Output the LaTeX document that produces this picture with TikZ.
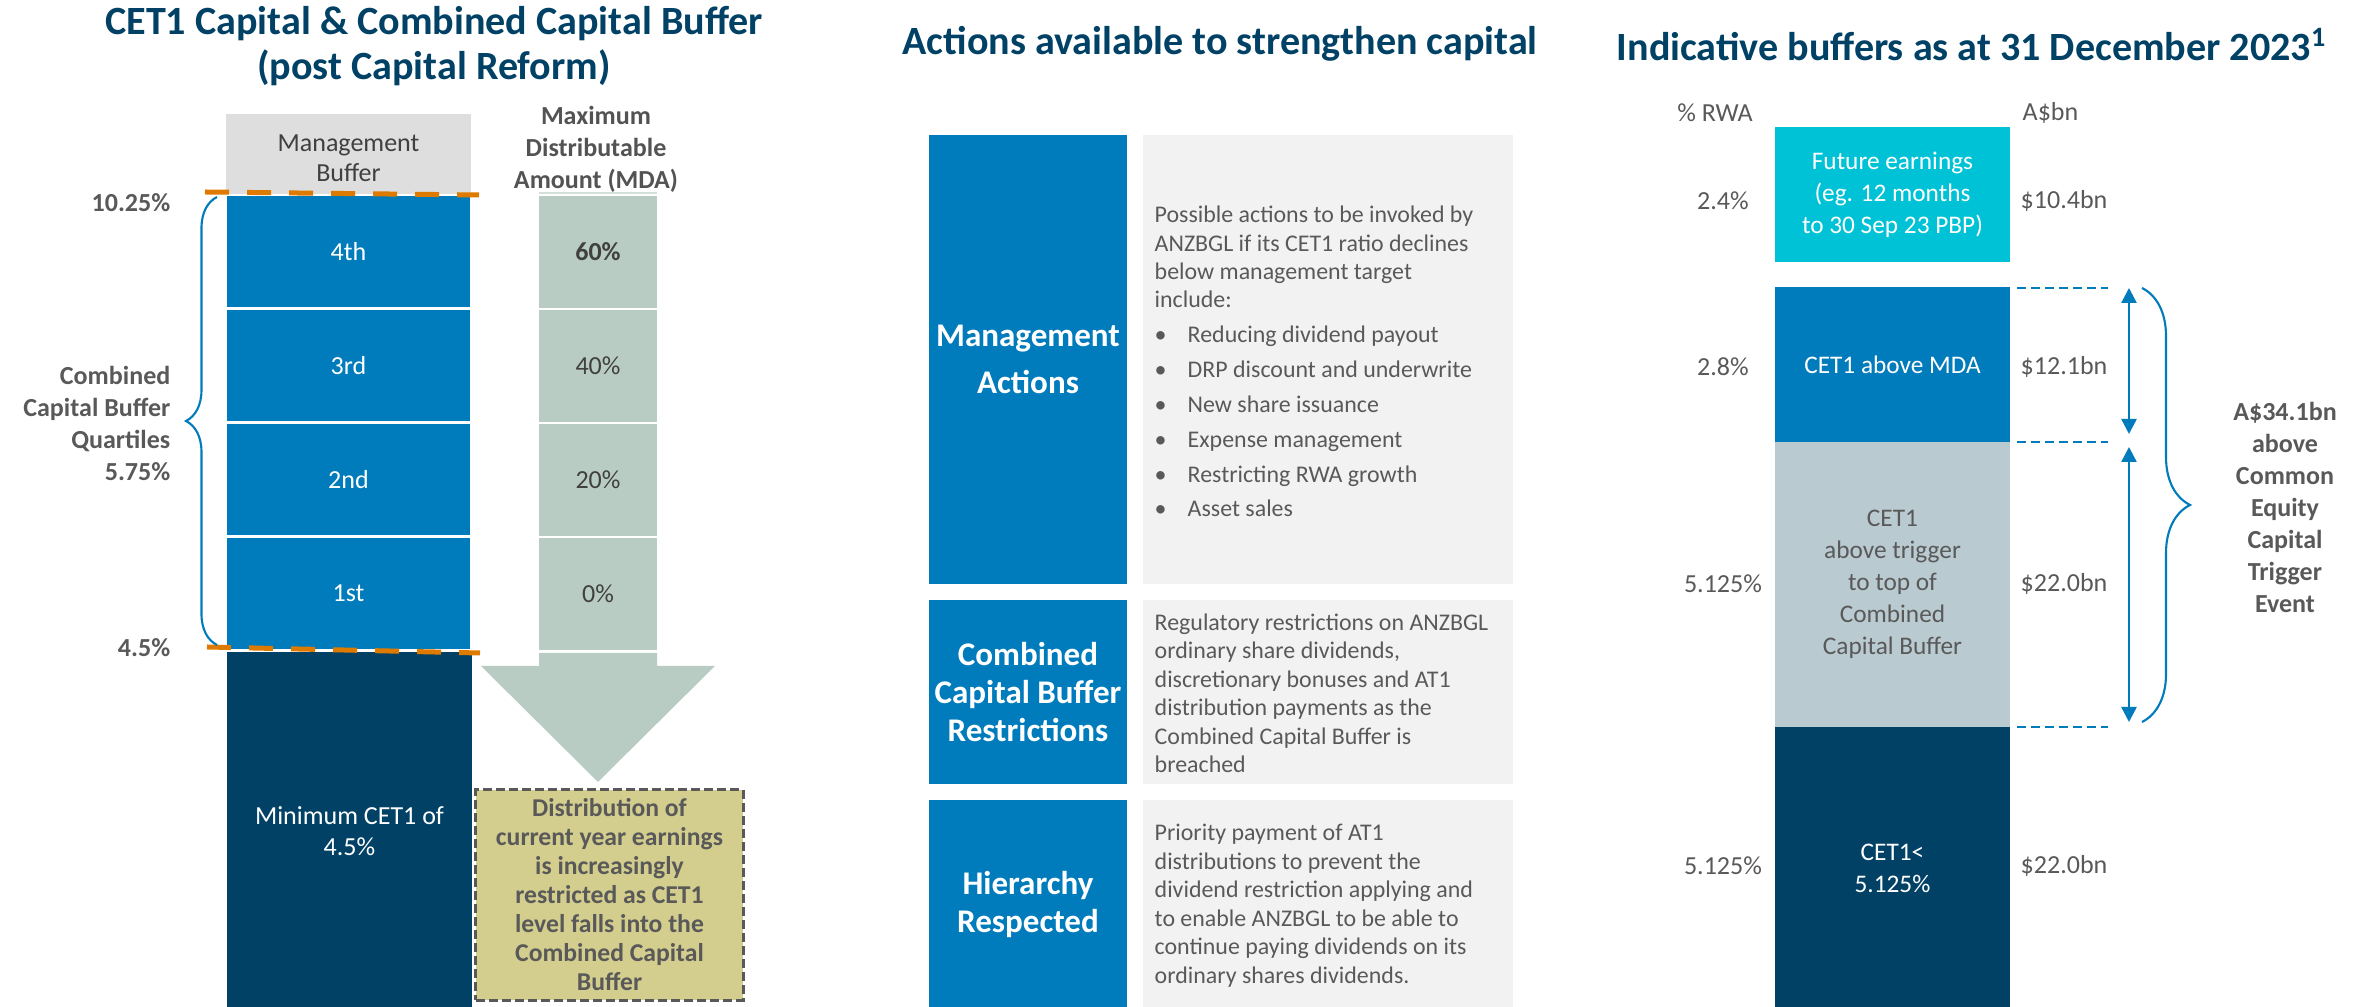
\documentclass[tikz,border=0pt]{standalone}
\usepackage{fontspec}
\setmainfont{Carlito}
\usetikzlibrary{arrows.meta,decorations.pathreplacing}

\definecolor{anzNavy}{HTML}{004165}
\definecolor{anzBlue}{HTML}{007BBB}
\definecolor{anzCyan}{HTML}{00C2D6}
\definecolor{slate}{HTML}{B9CAD1}
\definecolor{sage}{HTML}{B9CCC3}
\definecolor{paleGrey}{HTML}{DEDEDE}
\definecolor{boxGrey}{HTML}{F2F2F2}
\definecolor{anzOrange}{HTML}{DF7A00}
\definecolor{khaki}{HTML}{D3CE8E}
\definecolor{txtGrey}{HTML}{595959}
\definecolor{darkGrey}{HTML}{404040}

\newcommand{\fs}[2]{\fontsize{#1}{#2}\selectfont}

\tikzset{
  title/.style={font=\fs{11.4pt}{12.8pt}\bfseries, text=anzNavy, align=center},
  lab/.style={font=\fs{7.4pt}{8.6pt}, text=txtGrey, align=center, inner sep=0},
  boldlab/.style={lab, font=\fs{7.4pt}{9.1pt}\bfseries},
  qbox/.style={fill=anzBlue, minimum width=2.43cm, minimum height=1.11cm, inner sep=0,
    text=white, font=\fs{7.4pt}{8.6pt}},
  mbox/.style={fill=sage, minimum width=1.18cm, minimum height=1.11cm, inner sep=0,
    text=darkGrey, font=\fs{7.4pt}{8.6pt}},
  headbox/.style={fill=anzBlue, minimum width=1.98cm, inner sep=0, text=white,
    align=center, font=\fs{9.4pt}{10.8pt}\bfseries},
  greybox/.style={fill=boxGrey, minimum width=3.70cm, inner sep=0},
  body/.style={font=\fs{6.8pt}{8.1pt}, text=txtGrey, align=left, anchor=west, inner sep=0},
  rbox/.style={minimum width=2.35cm, inner sep=0, text=white, align=center,
    font=\fs{7.2pt}{9.1pt}},
  orangedash/.style={anzOrange, line width=0.05cm, dash pattern=on 0.24cm off 0.18cm},
  bluedash/.style={anzBlue, line width=0.6pt, dash pattern=on 0.09cm off 0.05cm},
  braceline/.style={anzBlue, line width=0.6pt, decorate},
  dimarrow/.style={anzBlue, line width=0.7pt,
    {Triangle[width=0.15cm,length=0.15cm]}-{Triangle[width=0.15cm,length=0.15cm]}}
}

\begin{document}
\begin{tikzpicture}[x=0.01cm,y=-0.01cm]
\useasboundingbox (0,0) rectangle (2371,1007);

% Left panel.
\node[title] (ttlA) at (434,46) {CET1 Capital \& Combined Capital Buffer\\(post Capital Reform)};

\node[fill=paleGrey, minimum width=2.45cm, minimum height=0.80cm, inner sep=0] (mgmt) at (348.5,154) {};
\node[lab, text=darkGrey, font=\fs{7.4pt}{8.6pt}] (mgmtTxt) at (348.5,158) {Management\\Buffer};

\node[boldlab, text=darkGrey!90] (mdaHd) at (596,149) {Maximum\\Distributable\\Amount (MDA)};
\draw[sage!60, line width=0.4pt] (539,193) -- (657,193);

% Quartiles and MDA.
\foreach \q/\pct [count=\i from 0] in {4th/\textbf{60\%}, 3rd/40\%, 2nd/20\%, 1st/0\%} {
  \node[qbox] (q\i) at (348.5,251.5+114*\i) {\q};
  \node[mbox] (m\i) at (598,252+114*\i) {\pct};
}

\node[fill=anzNavy, minimum width=2.45cm, minimum height=3.58cm, inner sep=0, text=white,
  align=center, font=\fs{7.4pt}{9pt}] (minBox) at (349.5,831) {Minimum CET1 of\\4.5\%};

% Arrow below MDA.
\fill[sage] (539,653) -- (657,653) -- (657,666) -- (715,666) -- (598,782)
  -- (481,666) -- (539,666) -- cycle;

\node[fill=khaki, draw=txtGrey, line width=0.85pt, dash pattern=on 0.09cm off 0.04cm,
  minimum width=2.67cm, minimum height=2.10cm, inner sep=0, align=center, text=txtGrey,
  font=\fs{7.3pt}{8.25pt}\bfseries] (distBox) at (609.5,895)
  {Distribution of\\current year earnings\\is increasingly\\restricted as CET1\\level falls into the\\Combined Capital\\Buffer};

% Levels.
\draw[orangedash] (205,192) -- (479,195);
\draw[orangedash] (207,647) -- (480,653);

\node[boldlab, anchor=east] (l1025) at (171,203) {10.25\%};
\node[boldlab, anchor=east] (l45) at (171,648) {4.5\%};
\node[boldlab, anchor=east, align=right] (ccbLab) at (171,423) {Combined\\Capital Buffer\\Quartiles\\5.75\%};

\coordinate (brLo) at (217,645);
\coordinate (brHi) at (217,197);
\draw[braceline, decoration={brace, amplitude=0.31cm}] (brLo) -- (brHi);

% Middle panel.
\node[title] (ttlB) at (1220,44) {Actions available to strengthen capital};

\node[headbox, minimum height=4.49cm] (maHead) at (1028,359.5) {Management\\[2.6pt]Actions};
\node[greybox, minimum height=4.49cm] (maBox) at (1328,359.5) {};
\node[body] (maTxt) at (1154,361.5) {Possible actions to be invoked by\\ANZBGL if its CET1 ratio declines\\below management target\\include:\\[1.8pt]
  \makebox[0.33cm][l]{\textbullet}Reducing dividend payout\\[1.8pt]
  \makebox[0.33cm][l]{\textbullet}DRP discount and underwrite\\[1.8pt]
  \makebox[0.33cm][l]{\textbullet}New share issuance\\[1.8pt]
  \makebox[0.33cm][l]{\textbullet}Expense management\\[1.8pt]
  \makebox[0.33cm][l]{\textbullet}Restricting RWA growth\\[1.8pt]
  \makebox[0.33cm][l]{\textbullet}Asset sales};

\node[headbox, minimum height=1.84cm] (ccbHead) at (1028,692) {Combined\\Capital Buffer\\Restrictions};
\node[greybox, minimum height=1.84cm] (ccbBox) at (1328,692) {};
\node[body] (ccbTxt) at (1154,693.5) {Regulatory restrictions on ANZBGL\\ordinary share dividends,\\discretionary bonuses and AT1\\distribution payments as the\\Combined Capital Buffer is\\breached};

\node[headbox, minimum height=2.10cm] (hrHead) at (1028,905) {Hierarchy\\Respected};
\node[greybox, minimum height=2.10cm] (hrBox) at (1328,905) {};
\node[body] (hrTxt) at (1154,905.5) {Priority payment of AT1\\distributions to prevent the\\dividend restriction applying and\\to enable ANZBGL to be able to\\continue paying dividends on its\\ordinary shares dividends.};

% Right panel.
\node[title] (ttlC) at (1972,45) {Indicative buffers as at 31 December 2023\textsuperscript{1}};
\node[lab] (rwaHd) at (1715,113) {\% RWA};
\node[lab, anchor=west] (bnHd) at (2022,113) {A\$bn};

\node[rbox, fill=anzCyan, minimum height=1.35cm] (fut) at (1892.5,194.5) {Future earnings\\(eg. 12 months\\to 30 Sep 23 PBP)};
\node[rbox, fill=anzBlue, minimum height=1.55cm] (abvMda) at (1892.5,364.5) {CET1 above MDA};
\node[rbox, fill=slate, text=txtGrey, minimum height=2.85cm] (abvTrig) at (1892.5,584.5) {CET1\\above trigger\\to top of\\Combined\\Capital Buffer};
\node[rbox, fill=anzNavy, minimum height=2.82cm] (blwTrig) at (1892.5,868) {CET1<\\5.125\%};

\foreach \yy/\pc/\bn [count=\i] in {201/2.4\%/\$10.4bn, 367/2.8\%/\$12.1bn, 584/5.125\%/\$22.0bn, 866/5.125\%/\$22.0bn} {
  \node[lab] (pc\i) at (1723,\yy) {\pc};
  \node[lab, anchor=west] (bn\i) at (2020,\yy) {\bn};
}

\coordinate (aTop) at (2129,288);
\coordinate (aMid) at (2129,442);
\coordinate (aBot) at (2129,727);
\draw[bluedash] (2017,288) -- (2108,288);
\draw[bluedash] (2017,442) -- (2108,442);
\draw[bluedash] (2017,727) -- (2108,727);
\draw[dimarrow, shorten >=0.08cm] (aTop) -- (aMid);
\draw[dimarrow, shorten <=0.05cm, shorten >=0.05cm] (aMid) -- (aBot);

\coordinate (brA) at (2142,288);
\coordinate (brB) at (2142,722);
\draw[braceline, decoration={brace, amplitude=0.48cm}] (brA) -- (brB);

\node[boldlab] (trigLab) at (2285,507.5) {A\$34.1bn\\above\\Common\\Equity\\Capital\\Trigger\\Event};
\end{tikzpicture}
\end{document}
